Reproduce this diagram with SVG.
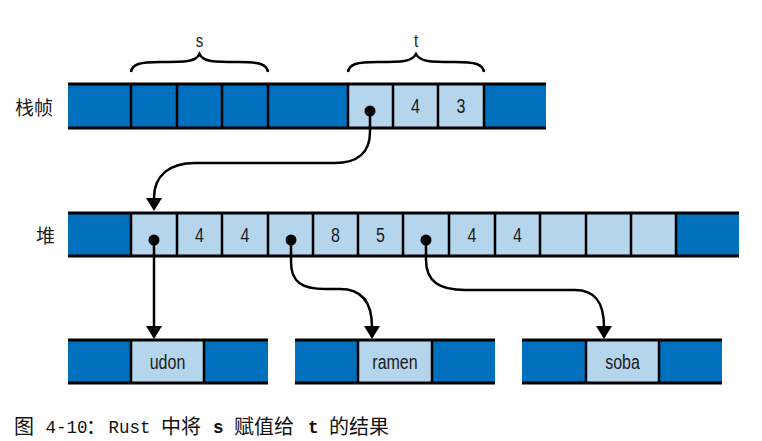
<svg xmlns="http://www.w3.org/2000/svg" width="762" height="441" viewBox="0 0 762 441">
<style>
.d{fill:#0070bd}
.l{fill:#b5d5ec}
.bar{stroke:#000;stroke-width:3;fill:none}
.div{stroke:#000;stroke-width:2.5;fill:none}
.val{font-family:"Liberation Sans",sans-serif;font-size:20px;text-anchor:middle;fill:#1a1a1a}
.lab{font-family:"Noto Sans CJK SC",sans-serif;font-size:19px;fill:#1a1a1a}
.br{font-family:"Liberation Sans",sans-serif;font-size:19px;text-anchor:middle;fill:#1a1a1a}
.brace{stroke:#000;stroke-width:2.5;fill:none}
.conn{stroke:#000;stroke-width:2.5;fill:none}
.cap{font-family:"Noto Sans CJK SC",sans-serif;font-size:20px;fill:#111}
.mono{font-family:"Liberation Mono",monospace;font-size:17.5px;fill:#111}
.monob{font-family:"Liberation Mono",monospace;font-size:17.5px;font-weight:bold;fill:#111}
</style>

<g id="stack">
<text class="lab" x="15" y="115">栈帧</text>
<rect class="d" x="68" y="84" width="280" height="44"/>
<rect class="l" x="348" y="84" width="136" height="44"/>
<rect class="d" x="484" y="84" width="62" height="44"/>
<path class="div" d="M131 84V128M177 84V128M222 84V128M268 84V128M348 84V128M393 84V128M438 84V128M484 84V128"/>
<path class="bar" d="M68 84H546M68 128H546"/>
<text class="val" transform="translate(415.5 113) scale(0.8 1)">4</text>
<text class="val" transform="translate(461 113) scale(0.8 1)">3</text>
<circle cx="370" cy="111" r="5.5" fill="#000"/>
</g>

<g id="brace-s">
<path class="brace" d="M131 72C132 64 140 62 160 62C185 62 196 62 199.5 54C203 62 214 62 239 62C259 62 267 64 268 72"/>
<text class="br" transform="translate(199.5 47) scale(0.8 1)">s</text>
</g>
<g id="brace-t">
<path class="brace" d="M348 72C349 64 357 62 377 62C402 62 412 62 416 54C420 62 430 62 455 62C475 62 483 64 484 72"/>
<text class="br" transform="translate(416 47) scale(0.8 1)">t</text>
</g>

<g id="heap">
<text class="lab" x="36" y="243">堆</text>
<rect class="d" x="68" y="213" width="63" height="43"/>
<rect class="l" x="131" y="213" width="545" height="43"/>
<rect class="d" x="676" y="213" width="63" height="43"/>
<path class="div" d="M131 213V256M177 213V256M222 213V256M268 213V256M313 213V256M358 213V256M403 213V256M449 213V256M495 213V256M540 213V256M586 213V256M631 213V256M676 213V256"/>
<path class="bar" d="M68 213H739M68 256H739"/>
<text class="val" transform="translate(199.5 242) scale(0.8 1)">4</text>
<text class="val" transform="translate(245 242) scale(0.8 1)">4</text>
<text class="val" transform="translate(335.5 242) scale(0.8 1)">8</text>
<text class="val" transform="translate(380.5 242) scale(0.8 1)">5</text>
<text class="val" transform="translate(472 242) scale(0.8 1)">4</text>
<text class="val" transform="translate(517.5 242) scale(0.8 1)">4</text>
<circle cx="154" cy="240" r="5.5" fill="#000"/>
<circle cx="291" cy="240" r="5.5" fill="#000"/>
<circle cx="426" cy="240" r="5.5" fill="#000"/>
</g>

<g id="udon">
<rect class="d" x="68" y="340" width="63" height="43"/>
<rect class="l" x="131" y="340" width="73" height="43"/>
<rect class="d" x="204" y="340" width="64" height="43"/>
<path class="div" d="M131 340V383M204 340V383"/>
<path class="bar" d="M68 340H268M68 383H268"/>
<text class="val" transform="translate(167.5 369) scale(0.8 1)">udon</text>
</g>
<g id="ramen">
<rect class="d" x="295" y="340" width="63" height="43"/>
<rect class="l" x="358" y="340" width="74" height="43"/>
<rect class="d" x="432" y="340" width="63" height="43"/>
<path class="div" d="M358 340V383M432 340V383"/>
<path class="bar" d="M295 340H495M295 383H495"/>
<text class="val" transform="translate(395 369) scale(0.8 1)">ramen</text>
</g>
<g id="soba">
<rect class="d" x="522" y="340" width="64" height="43"/>
<rect class="l" x="586" y="340" width="73" height="43"/>
<rect class="d" x="659" y="340" width="63" height="43"/>
<path class="div" d="M586 340V383M659 340V383"/>
<path class="bar" d="M522 340H722M522 383H722"/>
<text class="val" transform="translate(622.5 369) scale(0.8 1)">soba</text>
</g>

<g id="connectors">
<path class="conn" d="M370 111L370 132C370 153 357 163 335 163L195 163C170 163 154 175 154 198"/>
<polygon points="146,198 162,198 154,211" fill="#000"/>
<path class="conn" d="M154 240L154 327"/>
<polygon points="146,326 162,326 154,339" fill="#000"/>
<path class="conn" d="M291 240L291 262C291 282 302 289 325 289L340 289C362 289 372 303 372 327"/>
<polygon points="364,326 380,326 372,339" fill="#000"/>
<path class="conn" d="M426 240L426 260C426 282 440 290 465 290L575 290C595 290 604 302 604 327"/>
<polygon points="596,326 612,326 604,339" fill="#000"/>
</g>

<g id="caption">
<text class="cap" x="14" y="434">图</text>
<text class="mono" x="45.5" y="433">4-10</text>
<text class="cap" x="86" y="434">：</text>
<text class="mono" x="108.5" y="433">Rust</text>
<text class="cap" x="161" y="434">中将</text>
<text class="monob" x="213" y="433">s</text>
<text class="cap" x="234" y="434">赋值给</text>
<text class="monob" x="308" y="433">t</text>
<text class="cap" x="329" y="434">的结果</text>
</g>
</svg>
